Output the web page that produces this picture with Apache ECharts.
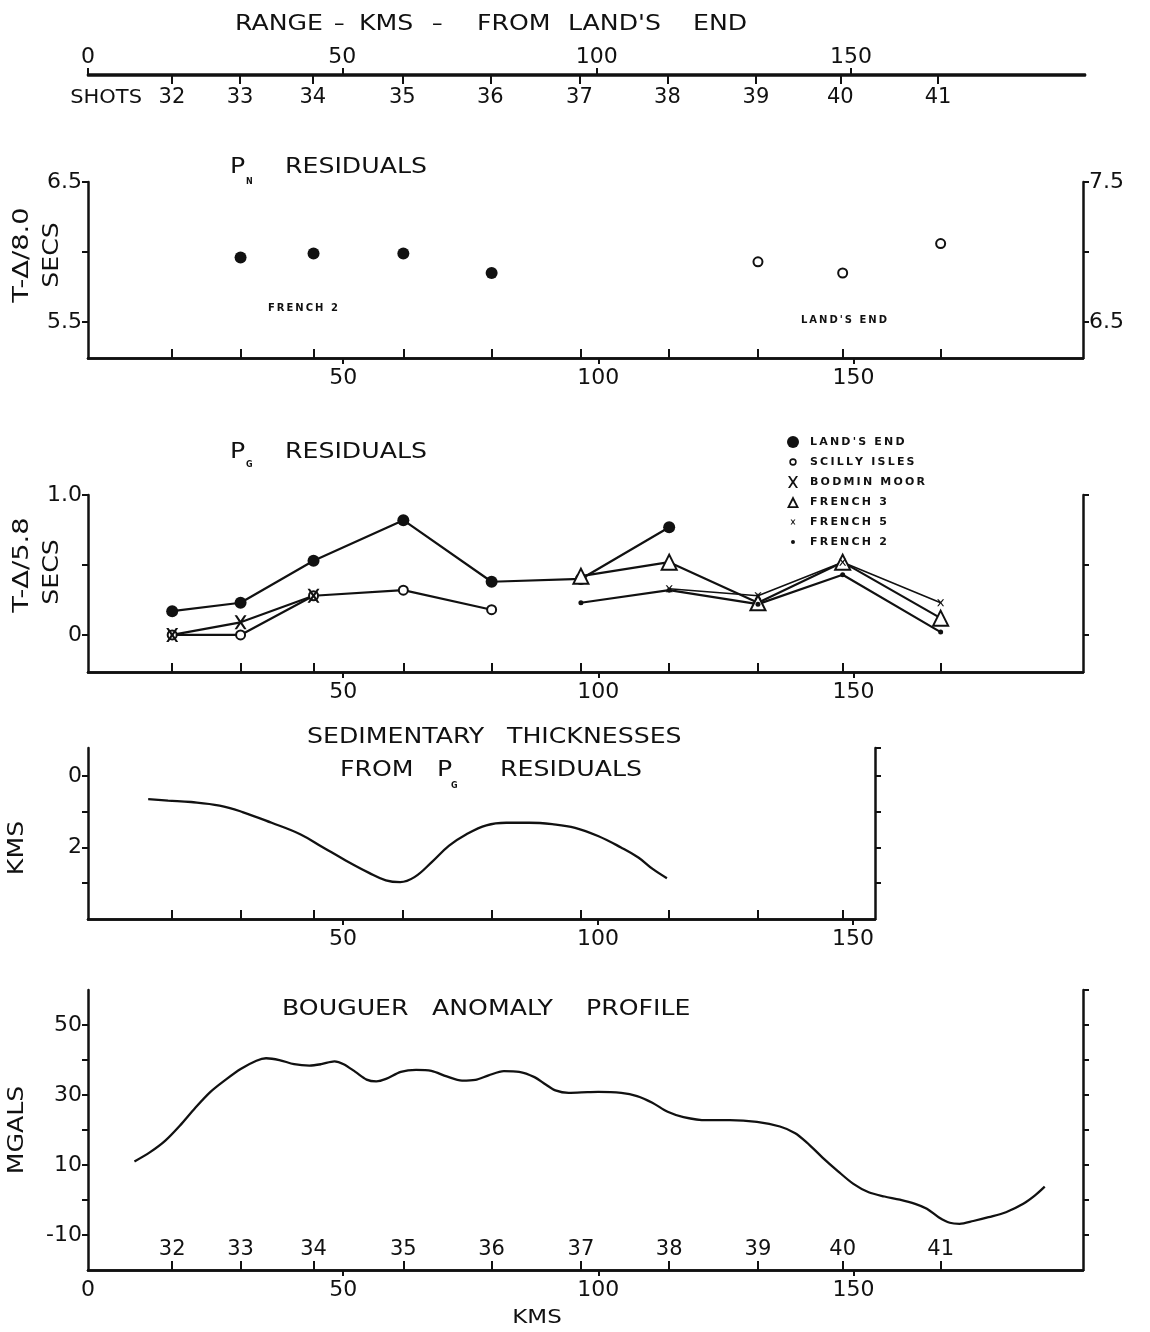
<!DOCTYPE html>
<html>
<head>
<meta charset="utf-8">
<title>Pn / Pg residuals, sedimentary thickness and Bouguer profile</title>
<script src="https://cdn.jsdelivr.net/npm/echarts@6/dist/echarts.min.js"></script>
<style>
  html, body { margin: 0; padding: 0; background: #fff; }
  #chart { width: 1150px; height: 1332px; }
</style>
</head>
<body>
<div id="chart"></div>
<script>
// shot points along the line, km from Land's End
const shotNames = ['32', '33', '34', '35', '36', '37', '38', '39', '40', '41']
const shotKm = [16.5, 29.9, 44.2, 61.8, 79.1, 96.6, 113.9, 131.3, 147.9, 167.1]

// Pn residuals (French 2 on left scale, Land's End on right scale)
const pnFrench2Km = [29.9, 44.2, 61.8, 79.1]
const pnFrench2 = [5.96, 5.99, 5.99, 5.85]
const pnLandsEndKm = [131.3, 147.9, 167.1]
const pnLandsEnd = [6.93, 6.85, 7.06]

// Pg residuals, secs
const pgLandsEndKm = [16.5, 29.9, 44.2, 61.8, 79.1, 96.6, 113.9]
const pgLandsEnd = [0.17, 0.23, 0.53, 0.82, 0.38, 0.40, 0.77]
const pgScillyKm = [16.5, 29.9, 44.2, 61.8, 79.1]
const pgScilly = [0, 0, 0.28, 0.32, 0.18]
const pgBodminKm = [16.5, 29.9, 44.2]
const pgBodmin = [0, 0.09, 0.28]
const pgFrench3Km = [96.6, 113.9, 131.3, 147.9, 167.1]
const pgFrench3 = [0.42, 0.52, 0.23, 0.52, 0.12]
const pgFrench5Km = [113.9, 131.3, 147.9, 167.1]
const pgFrench5 = [0.33, 0.28, 0.52, 0.23]
const pgFrench2Km = [96.6, 113.9, 131.3, 147.9, 167.1]
const pgFrench2 = [0.23, 0.32, 0.22, 0.43, 0.02]

// sedimentary thickness from Pg residuals, kms
const sedKm = [11.8, 15.7, 20.2, 25.8, 30.3, 36.0, 41.6, 46.1, 50.6, 55.1, 58.4, 61.2, 64.0,
  67.4, 70.8, 74.2, 78.1, 82.0, 86.5, 91.0, 95.5, 100.0, 104.5, 107.9, 110.7, 113.5]
const sedDepth = [0.65, 0.69, 0.73, 0.83, 1.01, 1.31, 1.63, 2.0, 2.37, 2.71, 2.92, 2.97, 2.83,
  2.41, 1.95, 1.63, 1.38, 1.31, 1.31, 1.35, 1.45, 1.68, 2.0, 2.28, 2.60, 2.86]

// Bouguer anomaly, mgals
const bgKm = [9.1, 12.1, 15.1, 18.1, 21.0, 24.0, 27.0, 30.0, 33.0, 34.9, 37.5, 40.4, 43.4, 45.7,
  48.3, 50.1, 52.4, 54.6, 56.5, 58.4, 61.3, 64.3, 67.3, 70.3, 73.3, 75.9, 78.5, 81.5, 84.5, 87.5,
  89.7, 91.6, 94.2, 97.9, 100, 104.5, 107.6, 110.6, 113.6, 116.7, 121.2, 125.8, 131.1, 135.6,
  138.6, 140.9, 143.9, 147.0, 150.0, 153.0, 156.1, 159.1, 162.1, 164.4, 166.7, 168.9, 170.8,
  173.5, 176.5, 179.9, 183.3, 185.6, 187.5]
const bgMgal = [11.0, 13.6, 16.9, 21.4, 26.3, 30.9, 34.4, 37.5, 39.8, 40.5, 40.0, 38.8, 38.4, 38.8,
  39.6, 38.8, 36.6, 34.4, 33.9, 34.6, 36.6, 37.2, 36.9, 35.3, 34.1, 34.3, 35.6, 36.8, 36.6, 35.1,
  33.0, 31.3, 30.6, 30.8, 30.9, 30.6, 29.7, 27.8, 25.2, 23.7, 22.8, 22.8, 22.3, 21.0,
  19.1, 16.4, 12.2, 8.2, 4.6, 2.2, 1.0, 0.1, -1.1, -2.5, -4.9, -6.5, -6.8,
  -6.0, -4.9, -3.5, -1.1, 1.3, 3.8]

const black = '#111'
const FONT = 'DejaVu Sans'
const KM_MAX = 195

const pairs = (xs, ys) => xs.map((x, i) => [x, ys[i]])
const spaced = s => s.split('').join('\u2009')
const shotLabel = v => {
  let best = 0
  shotKm.forEach((k, i) => { if (Math.abs(k - v) < Math.abs(shotKm[best] - v)) best = i })
  return shotNames[best]
}

const lineStyle = { color: black, width: 2.5 }
const labelFont = { color: black, fontSize: 22, fontFamily: FONT }

function kmAxis(gi, max, ticks, labels, position = 'bottom', margin = 9) {
  return {
    type: 'value', gridIndex: gi, min: 0, max: max, position: position,
    axisLine: { onZero: false, lineStyle: lineStyle },
    axisTick: { customValues: ticks, length: 6, lineStyle: { color: black, width: 2 } },
    axisLabel: Object.assign({ customValues: labels, margin: margin }, labelFont),
    splitLine: { show: false }
  }
}

function shotAxis(gi, max, label) {
  const vals = shotKm.filter(v => v < max)
  return {
    type: 'value', gridIndex: gi, min: 0, max: max, position: 'bottom',
    axisLine: { onZero: false, lineStyle: lineStyle },
    axisTick: { inside: !label || label.inside, customValues: vals, length: 9, lineStyle: { color: black, width: 2 } },
    axisLabel: label
      ? Object.assign({ customValues: vals, formatter: shotLabel, inside: label.inside, margin: label.margin }, labelFont, { fontSize: 21 })
      : { show: false },
    splitLine: { show: false }
  }
}

function yAxis(gi, position, min, max, ticks, labels, fmt, inverse) {
  return {
    type: 'value', gridIndex: gi, position: position, min: min, max: max, inverse: !!inverse,
    axisLine: { show: true, onZero: false, lineStyle: lineStyle },
    axisTick: { show: true, customValues: ticks, length: 6, lineStyle: { color: black, width: 2 } },
    axisLabel: labels.length
      ? Object.assign({ customValues: labels, formatter: fmt, margin: 6 }, labelFont)
      : { show: false },
    splitLine: { show: false }
  }
}

function word(text, x, y, size, opt = {}) {
  return {
    type: 'text', x: x, y: y, silent: true,
    scaleX: opt.sx || 1,
    rotation: opt.rot || 0,
    style: {
      text: text, fill: black, fontSize: size, fontFamily: FONT,
      fontWeight: opt.bold ? 'bold' : 'normal',
      align: opt.align || 'left', verticalAlign: 'middle'
    }
  }
}

const fix1 = v => v.toFixed(1)
const intLabel = v => v === 1 ? '1.0' : String(Math.round(v))

// legend icons: 12x12 frame so small markers stay small
const frame = 'path://M0,0Z M12,12Z '
const icons = {
  landsEnd: 'circle',
  scilly: frame + 'M6,2.3 A3.7,3.7 0 1,1 5.99,2.3 Z M6,3.9 A2.1,2.1 0 1,0 6.01,3.9 Z',
  bodmin: 'path://M1,0 L3,0 L6,4.5 L9,0 L11,0 L7.2,6 L11,12 L9,12 L6,7.5 L3,12 L1,12 L4.8,6 Z',
  french3: 'path://M6,0 L12,12 L0,12 Z M6,4.2 L2.9,10.3 L9.1,10.3 Z',
  french5: frame + 'M3.6,3.6 L4.8,3.6 L6,5.3 L7.2,3.6 L8.4,3.6 L6.6,6 L8.4,8.4 L7.2,8.4 L6,6.7 L4.8,8.4 L3.6,8.4 L5.4,6 Z',
  french2: frame + 'M6,4 A2,2 0 1,1 5.99,4 Z'
}
const xPath = 'path://M1,0 L3,0 L6,4.5 L9,0 L11,0 L7.2,6 L11,12 L9,12 L6,7.5 L3,12 L1,12 L4.8,6 Z'

function pgLine(name, data, symbol, size, extra) {
  return Object.assign({
    name: name, type: 'line', xAxisIndex: 4, yAxisIndex: 3, data: data,
    symbol: symbol, symbolSize: size, showAllSymbol: true,
    lineStyle: { color: black, width: 2.2 },
    itemStyle: { color: black, opacity: 1 },
    emphasis: { disabled: true }
  }, extra || {})
}

const chart = echarts.init(document.getElementById('chart'))

const option = {
  backgroundColor: '#fff',
  animation: false,
  grid: [
    { left: 88, right: 65, top: 74, height: 1 },
    { left: 88, right: 67, top: 182, height: 176 },
    { left: 88, right: 67, top: 495, height: 177 },
    { left: 88, right: 275, top: 748, height: 171 },
    { left: 88, right: 67, top: 990, height: 280 }
  ],
  xAxis: [
    kmAxis(0, 196, [0, 50, 100, 150], [0, 50, 100, 150], 'top', 6),
    shotAxis(0, 196, { inside: false, margin: 12 }),
    kmAxis(1, KM_MAX, [50, 100, 150], [50, 100, 150]),
    shotAxis(1, KM_MAX),
    kmAxis(2, KM_MAX, [50, 100, 150], [50, 100, 150]),
    shotAxis(2, KM_MAX),
    kmAxis(3, 154.3, [50, 100, 150], [50, 100, 150]),
    shotAxis(3, 154.3),
    kmAxis(4, KM_MAX, [50, 100, 150], [0, 50, 100, 150]),
    shotAxis(4, KM_MAX, { inside: true, margin: 10 })
  ],
  yAxis: [
    { type: 'value', gridIndex: 0, min: 0, max: 1, show: false },
    yAxis(1, 'left', 5.243, 6.5, [5.5, 6, 6.5], [5.5, 6.5], fix1),
    yAxis(1, 'right', 6.243, 7.5, [6.5, 7, 7.5], [6.5, 7.5], fix1),
    yAxis(2, 'left', -0.265, 1.0, [0, 0.5, 1], [0, 1], intLabel),
    yAxis(2, 'right', -0.265, 1.0, [0, 0.5, 1], []),
    yAxis(3, 'left', -0.78, 4.0, [0, 1, 2, 3], [0, 2], intLabel, true),
    yAxis(3, 'right', -0.78, 4.0, [-0.78, 0, 1, 2, 3], [], null, true),
    yAxis(4, 'left', -20, 60, [-10, 0, 10, 20, 30, 40, 50], [-10, 10, 30, 50], v => String(v)),
    yAxis(4, 'right', -20, 60, [-10, 0, 10, 20, 30, 40, 50, 60], [])
  ],
  legend: {
    left: 782, top: 431, orient: 'vertical',
    itemWidth: 12, itemHeight: 12, itemGap: 8, selectedMode: false,
    itemStyle: { borderWidth: 0 },
    formatter: spaced,
    textStyle: { color: black, fontFamily: FONT, fontWeight: 'bold', fontSize: 11, padding: [0, 0, 0, 6] },
    data: [
      { name: "LAND'S END", icon: icons.landsEnd },
      { name: 'SCILLY ISLES', icon: icons.scilly },
      { name: 'BODMIN MOOR', icon: icons.bodmin },
      { name: 'FRENCH 3', icon: icons.french3 },
      { name: 'FRENCH 5', icon: icons.french5 },
      { name: 'FRENCH 2', icon: icons.french2 }
    ]
  },
  series: [
    {
      name: 'Pn French 2', type: 'scatter', xAxisIndex: 2, yAxisIndex: 1,
      data: pairs(pnFrench2Km, pnFrench2), symbol: 'circle', symbolSize: 12,
      itemStyle: { color: black, opacity: 1 }, emphasis: { disabled: true }
    },
    {
      name: "Pn Land's End", type: 'scatter', xAxisIndex: 2, yAxisIndex: 2,
      data: pairs(pnLandsEndKm, pnLandsEnd), symbol: 'emptyCircle', symbolSize: 9,
      itemStyle: { color: black, borderColor: black, borderWidth: 2.4, opacity: 1 }, emphasis: { disabled: true }
    },
    pgLine("LAND'S END", pairs(pgLandsEndKm, pgLandsEnd), 'circle', 12),
    pgLine('SCILLY ISLES', pairs(pgScillyKm, pgScilly), 'emptyCircle', 9,
      { itemStyle: { color: black, borderColor: black, borderWidth: 2.2, opacity: 1 } }),
    pgLine('BODMIN MOOR', pairs(pgBodminKm, pgBodmin), xPath, [12, 14]),
    pgLine('FRENCH 3', pairs(pgFrench3Km, pgFrench3), 'emptyTriangle', 15,
      { itemStyle: { color: black, borderColor: black, borderWidth: 2.5, opacity: 1 } }),
    pgLine('FRENCH 5', pairs(pgFrench5Km, pgFrench5), xPath, 7, { lineStyle: { color: black, width: 1.6 } }),
    pgLine('FRENCH 2', pairs(pgFrench2Km, pgFrench2), 'circle', 5),
    {
      name: 'sediments', type: 'line', xAxisIndex: 6, yAxisIndex: 5,
      data: pairs(sedKm, sedDepth), smooth: 0.4, showSymbol: false,
      lineStyle: { color: black, width: 2.3 }, emphasis: { disabled: true }
    },
    {
      name: 'bouguer', type: 'line', xAxisIndex: 8, yAxisIndex: 7,
      data: pairs(bgKm, bgMgal), smooth: 0.3, showSymbol: false,
      lineStyle: { color: black, width: 2.3 }, emphasis: { disabled: true }
    }
  ],
  graphic: [
    // range scale
    word('RANGE', 235, 25, 21, { sx: 1.2 }),
    word('–', 334, 25, 21),
    word('KMS', 359, 25, 21, { sx: 1.2 }),
    word('–', 432, 25, 21),
    word('FROM', 477, 25, 21, { sx: 1.2 }),
    word("LAND'S", 568, 25, 21, { sx: 1.2 }),
    word('END', 693, 25, 21, { sx: 1.2 }),
    word('SHOTS', 142, 98, 20, { align: 'right', sx: 1.05 }),

    // Pn panel
    word('P', 230, 168, 21, { sx: 1.2 }),
    word('N', 246, 182, 8, { bold: true }),
    word('RESIDUALS', 285, 168, 21, { sx: 1.2 }),
    word('T-Δ/8.0', 23, 255, 21, { rot: Math.PI / 2, align: 'center', sx: 1.3 }),
    word('SECS', 53, 255, 21, { rot: Math.PI / 2, align: 'center', sx: 1.2 }),
    word(spaced('FRENCH 2'), 268, 308, 10, { bold: true }),
    word(spaced("LAND'S END"), 801, 320, 10, { bold: true }),

    // Pg panel
    word('P', 230, 453, 21, { sx: 1.2 }),
    word('G', 246, 465, 8, { bold: true }),
    word('RESIDUALS', 285, 453, 21, { sx: 1.2 }),
    word('T-Δ/5.8', 23, 565, 21, { rot: Math.PI / 2, align: 'center', sx: 1.3 }),
    word('SECS', 53, 572, 21, { rot: Math.PI / 2, align: 'center', sx: 1.2 }),

    // sediment panel
    word('SEDIMENTARY', 307, 738, 21, { sx: 1.2 }),
    word('THICKNESSES', 507, 738, 21, { sx: 1.2 }),
    word('FROM', 340, 771, 21, { sx: 1.2 }),
    word('P', 437, 771, 21, { sx: 1.2 }),
    word('G', 451, 786, 8, { bold: true }),
    word('RESIDUALS', 500, 771, 21, { sx: 1.2 }),
    word('KMS', 18, 848, 21, { rot: Math.PI / 2, align: 'center', sx: 1.2 }),

    // Bouguer panel
    word('BOUGUER', 282, 1010, 21, { sx: 1.2 }),
    word('ANOMALY', 432, 1010, 21, { sx: 1.2 }),
    word('PROFILE', 586, 1010, 21, { sx: 1.2 }),
    word('MGALS', 18, 1130, 21, { rot: Math.PI / 2, align: 'center', sx: 1.2 }),
    word('KMS', 537, 1318, 20, { align: 'center', sx: 1.15 })
  ]
}

chart.setOption(option)
</script>
</body>
</html>
